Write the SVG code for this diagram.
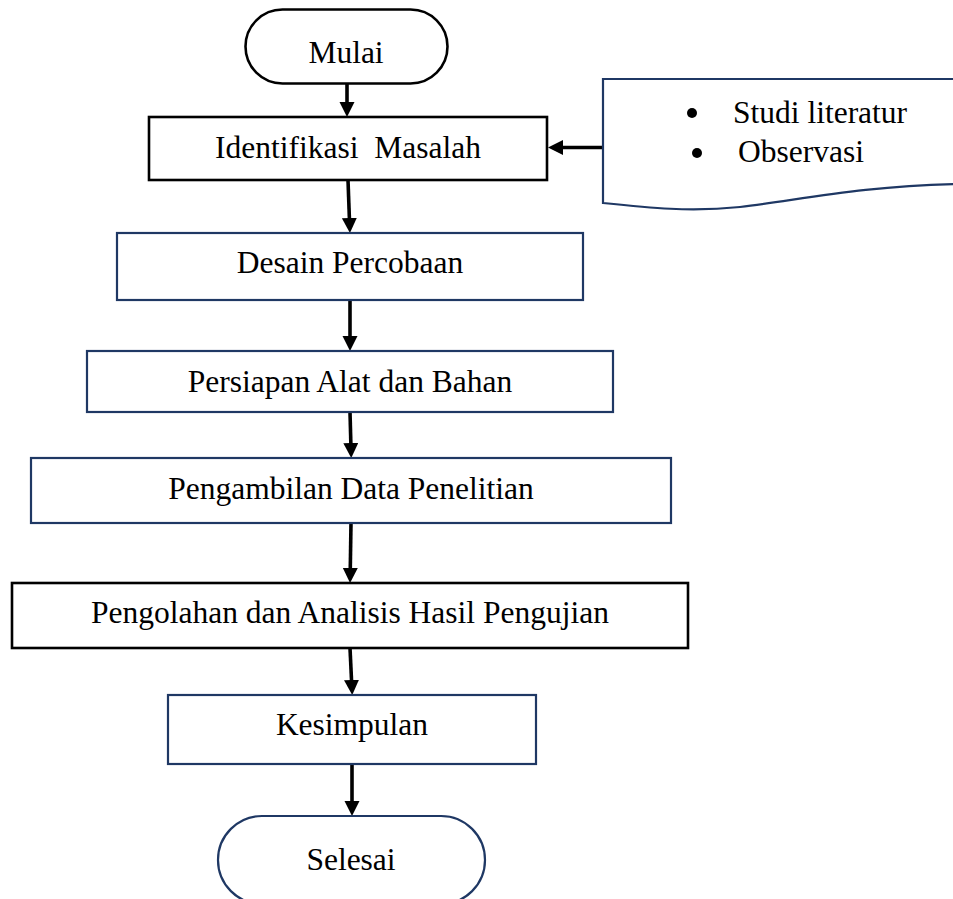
<svg xmlns="http://www.w3.org/2000/svg" width="953" height="899" viewBox="0 0 953 899">
<style>
  .nb { fill: #ffffff; stroke: #1f3864; stroke-width: 2.2; }
  .bk { fill: #ffffff; stroke: #000000; stroke-width: 2.6; }
  .t { font-family: "Liberation Serif", "Times New Roman", serif; font-size: 31.5px; fill: #000000; }
  .c { text-anchor: middle; }
  .edge { stroke: #000000; stroke-width: 3.6; fill: none; marker-end: url(#ah); }
</style>
<defs>
  <marker id="ah" markerUnits="userSpaceOnUse" markerWidth="16" markerHeight="16" refX="6" refY="7.5" orient="auto">
    <path d="M0,0 L15,7.5 L0,15 Z" fill="#000000"/>
  </marker>
</defs>
<rect width="953" height="899" fill="#ffffff"/>

<g id="connectors">
  <line class="edge" x1="347" y1="84" x2="347" y2="108"/>
  <line class="edge" x1="348" y1="180" x2="349.6" y2="224"/>
  <line class="edge" x1="350" y1="300" x2="350" y2="342"/>
  <line class="edge" x1="350" y1="412" x2="351" y2="449"/>
  <line class="edge" x1="351" y1="523" x2="350.2" y2="574"/>
  <line class="edge" x1="350" y1="648" x2="351.8" y2="686"/>
  <line class="edge" x1="352" y1="764" x2="352" y2="807"/>
  <line class="edge" x1="603" y1="147.5" x2="557" y2="147.5"/>
</g>

<g id="mulai">
  <rect class="bk" x="245.5" y="9.5" width="202" height="74" rx="37" ry="37"/>
  <text class="t c" x="346" y="63">Mulai</text>
</g>

<g id="identifikasi">
  <rect class="bk" x="149" y="117" width="398" height="63"/>
  <text class="t c" x="348" y="158" xml:space="preserve">Identifikasi  Masalah</text>
</g>

<g id="sumber">
  <path class="nb" d="M960,79 L603,79 L603,203 C 650,208 690,212 740,207 C 800,200 860,186 960,184"/>
  <circle cx="692" cy="113" r="5" fill="#000000"/>
  <text class="t" x="733" y="123">Studi literatur</text>
  <circle cx="697" cy="153" r="5" fill="#000000"/>
  <text class="t" x="738" y="162">Observasi</text>
</g>

<g id="desain">
  <rect class="nb" x="117" y="233" width="466" height="67"/>
  <text class="t c" x="350" y="273">Desain Percobaan</text>
</g>

<g id="persiapan">
  <rect class="nb" x="87" y="351" width="526" height="61"/>
  <text class="t c" x="350" y="392">Persiapan Alat dan Bahan</text>
</g>

<g id="pengambilan">
  <rect class="nb" x="31" y="458" width="640" height="65"/>
  <text class="t c" x="351" y="499">Pengambilan Data Penelitian</text>
</g>

<g id="pengolahan">
  <rect class="bk" x="12" y="583" width="676" height="65"/>
  <text class="t c" x="350" y="623">Pengolahan dan Analisis Hasil Pengujian</text>
</g>

<g id="kesimpulan">
  <rect class="nb" x="168" y="695" width="368" height="69"/>
  <text class="t c" x="352" y="735">Kesimpulan</text>
</g>

<g id="selesai">
  <rect class="nb" x="218" y="816" width="267" height="88" rx="44" ry="44"/>
  <text class="t c" x="351" y="870">Selesai</text>
</g>
</svg>
